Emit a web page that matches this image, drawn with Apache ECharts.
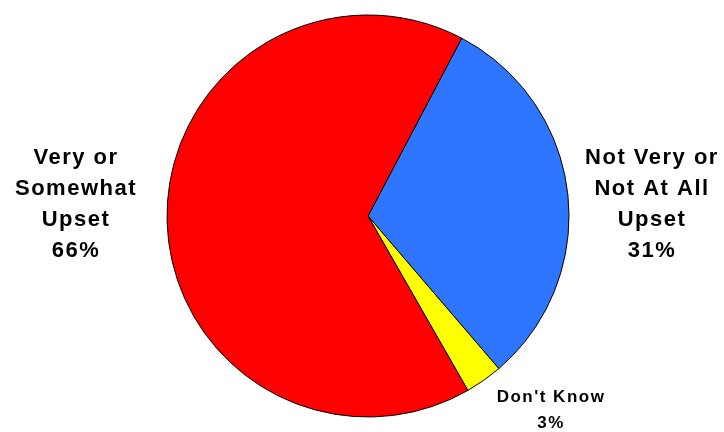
<!DOCTYPE html>
<html>
<head>
<meta charset="utf-8">
<title>Upset survey</title>
<style>
  html, body { margin: 0; padding: 0; background: #ffffff; }
  #chart { width: 724px; height: 432px; }
</style>
<script src="https://cdn.jsdelivr.net/npm/echarts@6/dist/echarts.min.js"></script>
</head>
<body>
<div id="chart"></div>
<script>
// Survey answers, drawn clockwise from the upper right
const categories = ['Not Very or\nNot At All\nUpset', "Don't Know", 'Very or\nSomewhat\nUpset'];
const shares = [31, 3, 66];
const sliceColors = ['#2E75FF', '#FFFF00', '#FF0000'];

// Spaced-out lettering for the labels (applied to both drawing and measuring)
const ctxProto = CanvasRenderingContext2D.prototype;
const origFill = ctxProto.fillText;
const origMeasure = ctxProto.measureText;
function spacingFor(ctx) {
  return '1.5px';
}
ctxProto.fillText = function (...args) {
  this.letterSpacing = spacingFor(this);
  return origFill.apply(this, args);
};
ctxProto.measureText = function (...args) {
  this.letterSpacing = spacingFor(this);
  return origMeasure.apply(this, args);
};

// Label block centres for each slice
const labelSpots = [
  { x: 652, y: 204, size: 22, lh: 31 },
  { x: 551, y: 410, size: 17, lh: 26 },
  { x: 76, y: 204, size: 22, lh: 31 }
];

const chart = echarts.init(document.getElementById('chart'), null, { renderer: 'canvas' });

chart.setOption({
  animation: false,
  backgroundColor: '#ffffff',
  series: [{
    type: 'pie',
    center: [368, 216],
    radius: [0, 201],
    startAngle: 62.2,
    clockwise: true,
    avoidLabelOverlap: false,
    itemStyle: { borderColor: '#000000', borderWidth: 1 },
    emphasis: { disabled: true },
    labelLine: { show: false },
    label: {
      show: true,
      position: 'outside',
      formatter: p => p.name + '\n' + p.value + '%',
      color: '#000000',
      fontFamily: '"Liberation Sans", Arial, sans-serif',
      fontWeight: 'bold',
      align: 'center'
    },
    labelLayout: params => {
      const s = labelSpots[params.dataIndex];
      return { x: s.x, y: s.y, align: 'center', verticalAlign: 'middle' };
    },
    data: categories.map((name, i) => ({
      name,
      value: shares[i],
      itemStyle: { color: sliceColors[i] },
      label: { fontSize: labelSpots[i].size, lineHeight: labelSpots[i].lh }
    }))
  }]
});
</script>
</body>
</html>
